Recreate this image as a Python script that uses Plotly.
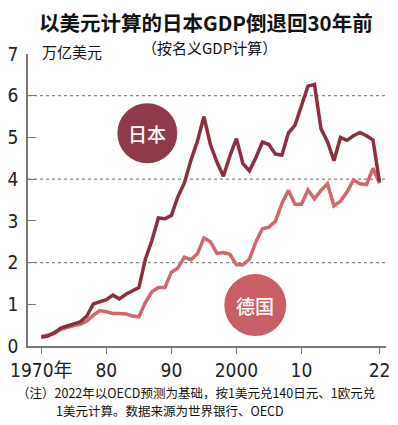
import plotly.graph_objects as go

years = list(range(1970, 2023))
japan = [0.21, 0.24, 0.32, 0.43, 0.48, 0.52, 0.58, 0.72, 1.01, 1.06,
         1.11, 1.22, 1.13, 1.24, 1.32, 1.40, 2.08, 2.53, 3.07, 3.05,
         3.13, 3.58, 3.91, 4.45, 4.91, 5.50, 4.83, 4.41, 4.07, 4.56,
         4.97, 4.37, 4.20, 4.52, 4.89, 4.83, 4.60, 4.58, 5.11, 5.29,
         5.76, 6.23, 6.27, 5.21, 4.90, 4.44, 5.00, 4.93, 5.04, 5.12,
         5.04, 4.94, 3.93]
germany = [0.22, 0.25, 0.30, 0.40, 0.45, 0.49, 0.52, 0.60, 0.74, 0.85,
           0.82, 0.78, 0.78, 0.77, 0.72, 0.70, 1.04, 1.30, 1.40, 1.40,
           1.77, 1.87, 2.13, 2.07, 2.21, 2.59, 2.50, 2.22, 2.24, 2.20,
           1.95, 1.95, 2.08, 2.50, 2.81, 2.85, 2.99, 3.42, 3.73, 3.40,
           3.40, 3.74, 3.53, 3.73, 3.89, 3.36, 3.47, 3.69, 3.98, 3.89,
           3.87, 4.26, 3.90]

x_tickvals = [1970, 1980, 1990, 2000, 2010, 2022]
x_ticktext = ["1970年", "80", "90", "2000", "10", "22"]
y_tickvals = [0, 1, 2, 3, 4, 5, 6, 7]
grid_values = [2, 4, 6]

title_text = "以美元计算的日本GDP倒退回30年前"
subtitle_text = "（按名义GDP计算）"
unit_text = "万亿美元"
note_line1 = "（注）2022年以OECD预测为基础，按1美元兑140日元、1欧元兑"
note_line2 = "1美元计算。数据来源为世界银行、OECD"
label_japan = "日本"
label_germany = "德国"

JP_LINE = "#8C2F40"
DE_LINE = "#D2676C"
JP_FILL = "#8E3A4A"
DE_FILL = "#C95F64"

NUM_FONT = "Liberation Sans Narrow, DejaVu Sans Condensed, Liberation Sans, Noto Sans CJK SC, sans-serif"
CJK_FONT = "Noto Sans CJK SC, sans-serif"

XMIN, XMAX = 1967.95, 2023.0

fig = go.Figure()

for g in grid_values:
    fig.add_shape(type="line", xref="x", yref="y", x0=XMIN, x1=XMAX, y0=g, y1=g,
                  line=dict(color="#888888", width=1.2, dash="dot"), layer="below")

fig.add_shape(type="circle", xref="x", yref="y", xsizemode="pixel", ysizemode="pixel",
              xanchor=1986.3, yanchor=5.1, x0=-30, x1=30, y0=-30, y1=30,
              fillcolor=JP_FILL, line=dict(width=0), layer="below")
fig.add_shape(type="circle", xref="x", yref="y", xsizemode="pixel", ysizemode="pixel",
              xanchor=2002.9, yanchor=0.98, x0=-31, x1=31, y0=-31, y1=31,
              fillcolor=DE_FILL, line=dict(width=0), layer="below")

fig.add_trace(go.Scatter(x=years, y=germany, mode="lines", name=label_germany,
                         line=dict(color=DE_LINE, width=3.5)))
fig.add_trace(go.Scatter(x=years, y=japan, mode="lines", name=label_japan,
                         line=dict(color=JP_LINE, width=3.5)))

annotations = [
    dict(x=1986.3, y=5.1, xref="x", yref="y", text=label_japan, showarrow=False,
         font=dict(family=CJK_FONT, size=19, color="white", weight=500)),
    dict(x=2002.9, y=0.98, xref="x", yref="y", text=label_germany, showarrow=False,
         font=dict(family=CJK_FONT, size=19, color="white", weight=500)),
    dict(x=206, y=425 - 22, xref="paper", yref="paper", text=title_text, showarrow=False,
         font=dict(family=CJK_FONT, size=20.5, color="#111111", weight="bold")),
    dict(x=210, y=425 - 47, xref="paper", yref="paper", text=subtitle_text, showarrow=False,
         font=dict(family=CJK_FONT, size=15, color="#111111")),
    dict(x=37, y=425 - 51, xref="paper", yref="paper", text=unit_text, showarrow=False,
         xanchor="left", font=dict(family=CJK_FONT, size=15, color="#111111")),
    dict(x=12, y=425 - 392.5, xref="paper", yref="paper", text=note_line1, showarrow=False,
         xanchor="left", font=dict(family=CJK_FONT, size=12.5, color="#111111")),
    dict(x=52, y=425 - 410, xref="paper", yref="paper", text=note_line2, showarrow=False,
         xanchor="left", font=dict(family=CJK_FONT, size=12.5, color="#111111")),
]

L, R, T, B = 25, 8, 54, 79
W, H = 398, 425
pw, ph = W - L - R, H - T - B
for a in annotations:
    if a["xref"] == "paper":
        a["x"] = (a["x"] - L) / pw
        a["y"] = (a["y"] - B) / ph
        a["yanchor"] = "middle"

fig.update_layout(
    width=W, height=H,
    margin=dict(l=L, r=R, t=T, b=B, pad=0),
    plot_bgcolor="white", paper_bgcolor="white",
    showlegend=False,
    annotations=annotations,
    xaxis=dict(range=[XMIN, XMAX], tickmode="array", tickvals=x_tickvals, ticktext=x_ticktext,
               showgrid=False, zeroline=False, showline=True, linecolor="#777777", linewidth=1.5,
               ticks="outside", ticklen=6, tickwidth=1.2, tickcolor="#777777",
               ticklabeloverflow="allow",
               tickfont=dict(family=NUM_FONT, size=19, color="#222222")),
    yaxis=dict(range=[0, 7], tickmode="array", tickvals=y_tickvals,
               showgrid=False, zeroline=False, showline=True, linecolor="#777777", linewidth=1.5,
               ticks="inside", ticklen=8, tickwidth=1.2, tickcolor="#777777",
               ticklabelstandoff=4,
               tickfont=dict(family=NUM_FONT, size=19, color="#222222")),
)

fig.write_html("out.html", config={"displayModeBar": False},
               post_script="document.body.style.margin='0';document.body.style.overflow='hidden';")
